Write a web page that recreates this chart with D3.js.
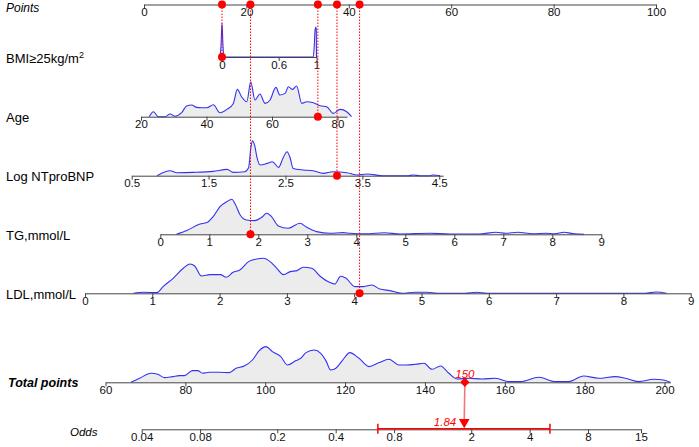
<!DOCTYPE html>
<html>
<head>
<meta charset="utf-8">
<script src="https://cdn.jsdelivr.net/npm/d3@7"></script>
<style>
  body { margin: 0; background: #fff; }
  svg text { font-family: "Liberation Sans", Arial, sans-serif; }
</style>
</head>
<body>
<div id="chart"></div>
<script>
// ---- values ----
const pointsTicks = [0, 20, 40, 60, 80, 100];
const bmiTicks = [0, 0.6, 1];
const ageTicks = [20, 40, 60, 80];
const ntTicks = [0.5, 1.5, 2.5, 3.5, 4.5];
const tgTicks = [0, 1, 2, 3, 4, 5, 6, 7, 8, 9];
const ldlTicks = [0, 1, 2, 3, 4, 5, 6, 7, 8, 9];
const totalTicks = [60, 80, 100, 120, 140, 160, 180, 200];
const oddsTicks = [0.04, 0.08, 0.2, 0.4, 0.8, 2, 4, 8, 15];

// densities: [value, relative height]
const bmiDensity = [[-0.02,0],[-0.01,12],[0,34],[0.01,12],[0.02,0],[0.5,0],[0.965,0],[0.975,9],[0.985,27],[0.993,30],[0.998,27],[1.0,0]];
const ageDensity = [[22.5,0],[23.8,5],[25.3,0],[27.3,0],[28.9,2.7],[30.4,0.5],[32.4,4],[33.9,10.7],[35.5,11.7],[37,9.3],[38.5,9],[40.1,9],[42.1,12],[44.1,4],[46.2,7.3],[48.2,13.3],[49.4,27.3],[50.7,20],[52.3,15],[53.5,35],[54.8,16.7],[56.3,22.7],[57.9,13.3],[59.4,16.7],[61.2,29.3],[62.4,21.7],[64,23.3],[65,30],[66.3,27.3],[67.5,30.7],[69.1,13.3],[70.6,15],[72.6,14],[74.7,11],[76.7,10],[78.7,3.3],[80.8,7.3],[82.8,5],[84.3,0]];
const ntDensity = [[0.83,0],[1.0,5],[1.09,3],[1.3,3.3],[1.56,4.3],[1.74,6.3],[1.82,3.3],[1.97,4],[2.02,8],[2.05,28],[2.07,35],[2.1,30],[2.13,18],[2.17,10.7],[2.26,12.3],[2.33,14],[2.41,8.3],[2.47,18],[2.52,24],[2.56,18],[2.6,7.3],[2.73,5.7],[2.86,5],[2.99,2.3],[3.12,4],[3.3,3],[3.43,0.7],[3.56,1.7],[3.77,0],[4.1,0],[4.16,0.7],[4.25,0],[4.38,0],[4.42,0.7],[4.51,0]];
const tgDensity = [[0.33,0],[0.54,3.7],[0.81,10.3],[0.95,11.7],[1.08,17.7],[1.22,27.7],[1.36,32.7],[1.46,35],[1.52,31],[1.63,19.3],[1.76,14.3],[1.93,13.7],[2.07,17],[2.17,21],[2.27,17.7],[2.41,8.3],[2.61,6],[2.85,11],[2.99,7],[3.19,2.7],[3.46,1],[3.73,1.7],[3.87,1],[4.2,0.5],[4.57,1.5],[4.9,0.3],[5.5,1],[5.9,0.3],[6.5,0.3],[6.85,2],[7.05,1],[7.3,2],[7.6,0.5],[7.87,1],[8.05,0.5],[8.24,2],[8.45,0.5],[8.65,0]];
const ldlDensity = [[0.72,0],[0.87,1],[1.07,0.7],[1.16,6.7],[1.31,15],[1.46,25],[1.56,29.3],[1.63,27.3],[1.73,17.3],[1.86,18.7],[2.01,18.7],[2.1,16],[2.2,21],[2.3,23.3],[2.43,31.7],[2.55,34.3],[2.65,35],[2.75,31.7],[2.85,25],[2.95,18.7],[3.05,21.7],[3.15,22.7],[3.24,26],[3.37,25],[3.49,17.3],[3.64,10.7],[3.71,9.3],[3.8,17],[3.88,15],[4.01,6.7],[4.14,6.7],[4.26,8.3],[4.38,4.3],[4.53,2.7],[4.71,0],[4.9,1],[5.08,1],[5.23,0],[5.65,0],[5.82,1],[5.97,0],[8.32,0],[8.49,1.3],[8.64,0]];
const totalDensity = [[66.4,0],[68.5,4],[71.4,9],[73.1,8],[74.75,4.7],[76.8,5.7],[78.5,6.7],[79.75,6.7],[81.8,11.7],[83.1,11.7],[84.3,9],[86,10],[88.5,10],[91,9.7],[92.7,14],[94.75,16.3],[96.8,22.3],[98.5,31.7],[100.2,35.7],[101.8,30.7],[103.9,25.7],[105.6,17.3],[107.7,21.7],[108.9,24],[110.2,29.7],[112.25,32.3],[113.9,29],[115.2,21.7],[116.4,12.3],[117.7,14],[119.3,21.7],[121.2,29.7],[123.5,24],[126,15.7],[128.5,19.7],[131,23],[133.5,17.3],[135.2,17.3],[137.7,18],[139.75,19],[141.8,13],[143.9,16.3],[146,9],[148.1,3.3],[151,4],[154.3,3.3],[157.7,4],[161,0.7],[163.9,0.7],[168.5,5],[172.7,0.7],[176,0.7],[179.75,6.3],[183.5,4],[187.7,5.7],[190.2,4],[193.5,0.7],[197.25,3],[199.75,2.3],[201.4,0]];

// the patient marked in red
const patientValues = [0, 74, 3.17, 1.84, 4.08];   // BMI, Age, NTproBNP, TG, LDL
const totalPoints = 150;
const oddsValue = 1.84;
const oddsCI = [0.66, 5.09];

// ---- layout ----
const width = 699, height = 447;
const rowY = {points: 4.5, bmi: 57, age: 116.7, nt: 175.7, tg: 234.3, ldl: 293.3, total: 382.3, odds: 429.3};

const xPoints = d3.scaleLinear().domain([0, 100]).range([144, 656]);
const xTotal = d3.scaleLinear().domain([60, 201.5]).range([105.5, 670.5]);
const xOdds = d3.scaleLog().domain([0.04, 15]).range([141.7, 641]);
const hDens = d3.scaleLinear().domain([0, 36]).range([0, 36]);

const rows = [
    {label: 'BMI≥25kg/m', sup: '2', y: rowY.bmi, ticks: bmiTicks, dens: bmiDensity,
     x: d3.scaleLinear().domain([0, 1]).range([222, 316.5])},
    {label: 'Age', y: rowY.age, ticks: ageTicks, dens: ageDensity,
     x: d3.scaleLinear().domain([20, 82.9]).range([141, 347])},
    {label: 'Log NTproBNP', y: rowY.nt, ticks: ntTicks, dens: ntDensity,
     x: d3.scaleLinear().domain([0.5, 4.55]).range([131.7, 443.1])},
    {label: 'TG,mmol/L', y: rowY.tg, ticks: tgTicks, dens: tgDensity,
     x: d3.scaleLinear().domain([0, 9]).range([160.3, 601.3])},
    {label: 'LDL,mmol/L', y: rowY.ldl, ticks: ldlTicks, dens: ldlDensity,
     x: d3.scaleLinear().domain([0, 9]).range([85, 690.7])}
];
rows.forEach((r, i) => r.value = patientValues[i]);

const svg = d3.select('#chart').append('svg')
    .attr('width', width).attr('height', height);

function drawAxis(scale, ticks, y) {
    const g = svg.append('g')
        .attr('transform', `translate(0,${y})`)
        .call(d3.axisBottom(scale).tickValues(ticks).tickSize(4).tickSizeOuter(0)
            .tickPadding(-0.5).tickFormat(d => String(d)));
    g.attr('font-family', null).attr('font-size', null);
    g.select('.domain').attr('stroke', '#444');
    g.selectAll('.tick line').attr('stroke', '#444');
    g.selectAll('.tick text').attr('fill', '#111').style('font-size', '11.5px');
    return g;
}

function drawDensity(scale, dens, y) {
    const area = d3.area()
        .x(d => scale(d[0])).y0(y).y1(d => y - hDens(d[1]))
        .curve(d3.curveMonotoneX);
    const line = d3.line()
        .x(d => scale(d[0])).y(d => y - hDens(d[1]))
        .curve(d3.curveMonotoneX);
    svg.append('path').datum(dens).attr('d', area).attr('fill', '#ececec');
    svg.append('path').datum(dens).attr('d', line)
        .attr('fill', 'none').attr('stroke', '#3232f5').attr('stroke-width', 1.1);
}

// densities first, axes on top
rows.forEach(r => drawDensity(r.x, r.dens, r.y));
drawDensity(xTotal, totalDensity, rowY.total);

drawAxis(xPoints, pointsTicks, rowY.points);
rows.forEach(r => drawAxis(r.x, r.ticks, r.y));
drawAxis(xTotal, totalTicks, rowY.total);
drawAxis(xOdds, oddsTicks, rowY.odds);

// row labels
const labels = svg.append('g');
labels.append('text').attr('x', 6).attr('y', 11.7)
    .style('font-size', '12px').style('font-style', 'italic').text('Points');
rows.forEach(r => {
    const t = labels.append('text').attr('x', 6).attr('y', r.y + 5.5)
        .style('font-size', '13px').text(r.label);
    if (r.sup) t.append('tspan').attr('dy', -5).style('font-size', '9px').text(r.sup);
});
labels.append('text').attr('x', 8).attr('y', rowY.total + 4.3)
    .style('font-size', '12.5px').style('font-style', 'italic').style('font-weight', 'bold')
    .text('Total points');
labels.append('text').attr('x', 70).attr('y', rowY.odds + 6.5)
    .style('font-size', '11.5px').style('font-style', 'italic').text('Odds');

// dotted guides from each variable up to the Points scale
rows.forEach(r => {
    const x = r.x(r.value);
    svg.append('line')
        .attr('x1', x).attr('x2', x).attr('y1', rowY.points).attr('y2', r.y)
        .attr('stroke', 'red').attr('stroke-width', 1).attr('stroke-dasharray', '1.5,1.5');
});

// total -> odds
const xt = xTotal(totalPoints), xo = xOdds(oddsValue);
svg.append('line')
    .attr('x1', xt).attr('x2', xo).attr('y1', rowY.total).attr('y2', rowY.odds - 8)
    .attr('stroke', '#f07878').attr('stroke-width', 1.6);

svg.append('line')
    .attr('x1', xOdds(oddsCI[0])).attr('x2', xOdds(oddsCI[1]))
    .attr('y1', rowY.odds - 0.6).attr('y2', rowY.odds - 0.6)
    .attr('stroke', 'red').attr('stroke-width', 1.5);
oddsCI.forEach(v => {
    svg.append('line')
        .attr('x1', xOdds(v)).attr('x2', xOdds(v))
        .attr('y1', rowY.odds - 5.5).attr('y2', rowY.odds + 4.5)
        .attr('stroke', 'red').attr('stroke-width', 1.5);
});
svg.append('path')
    .attr('d', d3.symbol(d3.symbolTriangle, 50)())
    .attr('transform', `translate(${xo},${rowY.odds - 7.2}) rotate(180)`)
    .attr('fill', 'red');
svg.append('text').attr('x', xo - 8).attr('y', rowY.odds - 3.6)
    .attr('text-anchor', 'end').attr('fill', 'red')
    .style('font-size', '11.5px').style('font-style', 'italic').text(String(oddsValue));

svg.append('path')
    .attr('d', d3.symbol(d3.symbolSquare, 44)())
    .attr('transform', `translate(${xt},${rowY.total}) rotate(45)`)
    .attr('fill', 'red');
svg.append('text').attr('x', xt).attr('y', rowY.total - 4.2)
    .attr('text-anchor', 'middle').attr('fill', 'red')
    .style('font-size', '11.5px').style('font-style', 'italic').text(String(totalPoints));

// red dots: on each variable axis and on the Points scale
rows.forEach(r => {
    const x = r.x(r.value);
    svg.append('circle').attr('cx', x).attr('cy', r.y).attr('r', 4).attr('fill', 'red');
    svg.append('circle').attr('cx', xPoints(xPoints.invert(x))).attr('cy', rowY.points)
        .attr('r', 4).attr('fill', 'red');
});
</script>
</body>
</html>
